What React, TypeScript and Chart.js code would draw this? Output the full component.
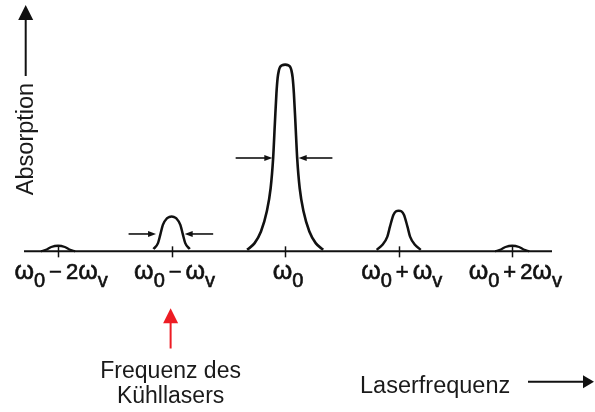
import React, { useEffect, useRef } from 'react';
import { Chart, registerables } from 'chart.js';

Chart.register(...registerables);

// Frequency axis in units of the vibrational frequency ω_v, centred on ω_0
const axisStart = -2.3;
const axisEnd = 2.35;
const baselineX = [axisStart, axisEnd];
const baselineY = [0, 0];

// Carrier absorption line at ω_0 (peak normalised to 100)
const carrierX = [-0.335, -0.269, -0.213, -0.162, -0.128, -0.106, -0.09, -0.077, -0.066, -0.055, -0.044, -0.026, 0, 0.026, 0.044, 0.055, 0.066, 0.077, 0.09, 0.106, 0.128, 0.162, 0.213, 0.269, 0.335];
const carrierY = [0.8, 4.4, 10.6, 21.3, 33.8, 49.8, 69.3, 84.5, 93.0, 97.0, 98.8, 99.7, 100, 99.7, 98.8, 97.0, 93.0, 84.5, 69.3, 49.8, 33.8, 21.3, 10.6, 4.4, 0.8];

// First red sideband at ω_0 − ω_v
const red1X = [-1.16, -1.12, -1.1, -1.077, -1.041, -1.02, -1, -0.98, -0.959, -0.923, -0.9, -0.88, -0.84];
const red1Y = [1.2, 4.4, 8.8, 14.2, 17.7, 18.4, 18.6, 18.4, 17.7, 14.2, 8.8, 4.4, 1.2];

// First blue sideband at ω_0 + ω_v
const blue1X = [0.806, 0.857, 0.9, 0.923, 0.953, 0.977, 1, 1.023, 1.047, 1.077, 1.1, 1.143, 1.194];
const blue1Y = [0.8, 3.5, 7.9, 13.2, 19.5, 21.5, 21.8, 21.5, 19.5, 13.2, 7.9, 3.5, 0.8];

// Second-order sidebands at ω_0 ± 2ω_v
const red2X = [-2.15, -2.1, -2.06, -2, -1.94, -1.9, -1.85];
const red2Y = [0, 1, 2.3, 3, 2.3, 1, 0];
const blue2X = [1.85, 1.9, 1.94, 2, 2.06, 2.1, 2.15];
const blue2Y = [0, 1, 2.3, 3, 2.3, 1, 0];

// Tick positions and their labels ("_" marks a subscript character)
const tickValues = [-2, -1, 0, 1, 2];
const tickLabels = ['ω_0 − 2ω_v', 'ω_0 − ω_v', 'ω_0', 'ω_0 + ω_v', 'ω_0 + 2ω_v'];

// Half-width markers: level, then [tail, tip] of the left and right arrows
const fwhmLevels = [50, 9.3];
const fwhmLeft = [[-0.436, -0.113], [-1.379, -1.137]];
const fwhmRight = [[0.416, 0.119], [-0.634, -0.885]];

// Position of the cooling laser
const coolingLaserX = -1;

const FONT = '"Liberation Sans", Arial, Helvetica, sans-serif';
const INK = '#111111';
const RED = '#ed1c24';

const toPoints = (xs: number[], ys: number[]) => xs.map((x, i) => ({ x, y: ys[i] }));

function drawArrow(
  ctx: CanvasRenderingContext2D,
  x1: number, y1: number, x2: number, y2: number,
  headLen: number, headW: number, lineW: number, color: string
) {
  const ang = Math.atan2(y2 - y1, x2 - x1);
  const bx = x2 - Math.cos(ang) * headLen;
  const by = y2 - Math.sin(ang) * headLen;
  ctx.save();
  ctx.strokeStyle = color;
  ctx.fillStyle = color;
  ctx.lineWidth = lineW;
  ctx.beginPath();
  ctx.moveTo(x1, y1);
  ctx.lineTo(bx + Math.cos(ang) * 1, by + Math.sin(ang) * 1);
  ctx.stroke();
  const nx = -Math.sin(ang) * headW / 2;
  const ny = Math.cos(ang) * headW / 2;
  ctx.beginPath();
  ctx.moveTo(x2, y2);
  ctx.lineTo(bx + nx, by + ny);
  ctx.lineTo(bx - nx, by - ny);
  ctx.closePath();
  ctx.fill();
  ctx.restore();
}

type Part = { t?: string; sub?: boolean; gap?: boolean };

function parseLabel(s: string): Part[] {
  const parts: Part[] = [];
  for (let i = 0; i < s.length; i++) {
    const c = s[i];
    if (c === '_') {
      parts.push({ t: s[i + 1], sub: true });
      i++;
    } else if (c === ' ') {
      parts.push({ gap: true });
    } else {
      parts.push({ t: c, sub: false });
    }
  }
  return parts;
}

function partFont(p: Part) {
  if (p.sub) return `20px ${FONT}`;
  if (p.t === 'ω') return `25px ${FONT}`;
  return `22px ${FONT}`;
}

function drawRichLabel(ctx: CanvasRenderingContext2D, s: string, cx: number, baseY: number) {
  const parts = parseLabel(s);
  const GAP = 4;
  let total = 0;
  const widths = parts.map((p) => {
    if (p.gap) return GAP;
    ctx.font = partFont(p);
    return ctx.measureText(p.t as string).width;
  });
  widths.forEach((w) => (total += w));
  let x = cx - total / 2;
  ctx.save();
  ctx.fillStyle = INK;
  ctx.strokeStyle = INK;
  ctx.lineWidth = 0.6;
  ctx.textAlign = 'left';
  ctx.textBaseline = 'alphabetic';
  parts.forEach((p, i) => {
    if (!p.gap) {
      ctx.font = partFont(p);
      const y = p.sub ? baseY + 8 : baseY;
      ctx.fillText(p.t as string, x, y);
      ctx.strokeText(p.t as string, x, y);
    }
    x += widths[i];
  });
  ctx.restore();
}

const diagramPlugin = {
  id: 'spectrumDecor',
  afterDatasetsDraw(chart: any) {
    const ctx: CanvasRenderingContext2D = chart.ctx;
    const xs = chart.scales.x;
    const ys = chart.scales.y;
    const y0 = ys.getPixelForValue(0);

    // tick marks crossing the baseline and their labels
    ctx.save();
    ctx.strokeStyle = INK;
    ctx.lineWidth = 1.5;
    tickValues.forEach((v, i) => {
      const px = Math.round(xs.getPixelForValue(v)) + 0.5;
      ctx.beginPath();
      ctx.moveTo(px, y0 - 5);
      ctx.lineTo(px, y0 + 6);
      ctx.stroke();
      drawRichLabel(ctx, tickLabels[i], xs.getPixelForValue(v) + 3, 279);
    });
    ctx.restore();

    // half-width arrows
    fwhmLevels.forEach((lvl, i) => {
      const py = ys.getPixelForValue(lvl);
      const [lt, lh] = fwhmLeft[i];
      const [rt, rh] = fwhmRight[i];
      drawArrow(ctx, xs.getPixelForValue(lt), py, xs.getPixelForValue(lh), py, 8, 6, 1.6, INK);
      drawArrow(ctx, xs.getPixelForValue(rt), py, xs.getPixelForValue(rh), py, 8, 6, 1.6, INK);
    });

    // vertical axis arrow and title
    drawArrow(ctx, 25.7, 76, 25.7, 5, 15, 15, 2, INK);
    ctx.save();
    ctx.fillStyle = '#1a1a1a';
    ctx.font = `23.5px ${FONT}`;
    ctx.textAlign = 'center';
    ctx.textBaseline = 'alphabetic';
    ctx.translate(32.5, 139);
    ctx.rotate(-Math.PI / 2);
    ctx.fillText('Absorption', 0, 0);
    ctx.restore();

    // horizontal axis title and arrow
    ctx.save();
    ctx.fillStyle = '#1a1a1a';
    ctx.font = `23.5px ${FONT}`;
    ctx.textAlign = 'left';
    ctx.textBaseline = 'alphabetic';
    ctx.fillText('Laserfrequenz', 360, 392.5);
    ctx.restore();
    drawArrow(ctx, 528, 381.7, 594, 381.7, 11, 13, 2, INK);

    // cooling laser marker
    const cx = xs.getPixelForValue(coolingLaserX) - 1;
    drawArrow(ctx, cx, 348.5, cx, 308.3, 15, 15, 2, RED);
    ctx.save();
    ctx.fillStyle = '#1a1a1a';
    ctx.font = `23px ${FONT}`;
    ctx.textAlign = 'center';
    ctx.textBaseline = 'alphabetic';
    ctx.fillText('Frequenz des', cx, 377.5);
    ctx.fillText('Kühllasers', cx, 402.5);
    ctx.restore();
  },
};

export default function App() {
  const ref = useRef<HTMLCanvasElement>(null);

  useEffect(() => {
    const line = (xs: number[], ys: number[], width: number) => ({
      data: toPoints(xs, ys),
      borderColor: INK,
      borderWidth: width,
      pointRadius: 0,
      fill: false,
      cubicInterpolationMode: 'monotone' as const,
      clip: false as any,
    });

    const chart = new Chart(ref.current as HTMLCanvasElement, {
      type: 'line',
      data: {
        datasets: [
          line(baselineX, baselineY, 2),
          line(red2X, red2Y, 2.3),
          line(red1X, red1Y, 2.5),
          line(carrierX, carrierY, 2.6),
          line(blue1X, blue1Y, 2.5),
          line(blue2X, blue2Y, 2.3),
        ],
      },
      options: {
        animation: false,
        responsive: false,
        devicePixelRatio: 1,
        layout: { padding: { left: 24, right: 43, top: 46, bottom: 142 } },
        scales: {
          x: { type: 'linear', min: axisStart, max: axisEnd, display: false },
          y: { type: 'linear', min: -10, max: 110, display: false },
        },
        plugins: {
          legend: { display: false },
          tooltip: { enabled: false },
        },
        events: [],
      },
      plugins: [diagramPlugin],
    });
    return () => chart.destroy();
  }, []);

  return (
    <div style={{ position: 'absolute', left: 0, top: 0, width: 595, height: 412, background: '#ffffff' }}>
      <canvas ref={ref} width={595} height={412} style={{ display: 'block', width: 595, height: 412 }} />
    </div>
  );
}
